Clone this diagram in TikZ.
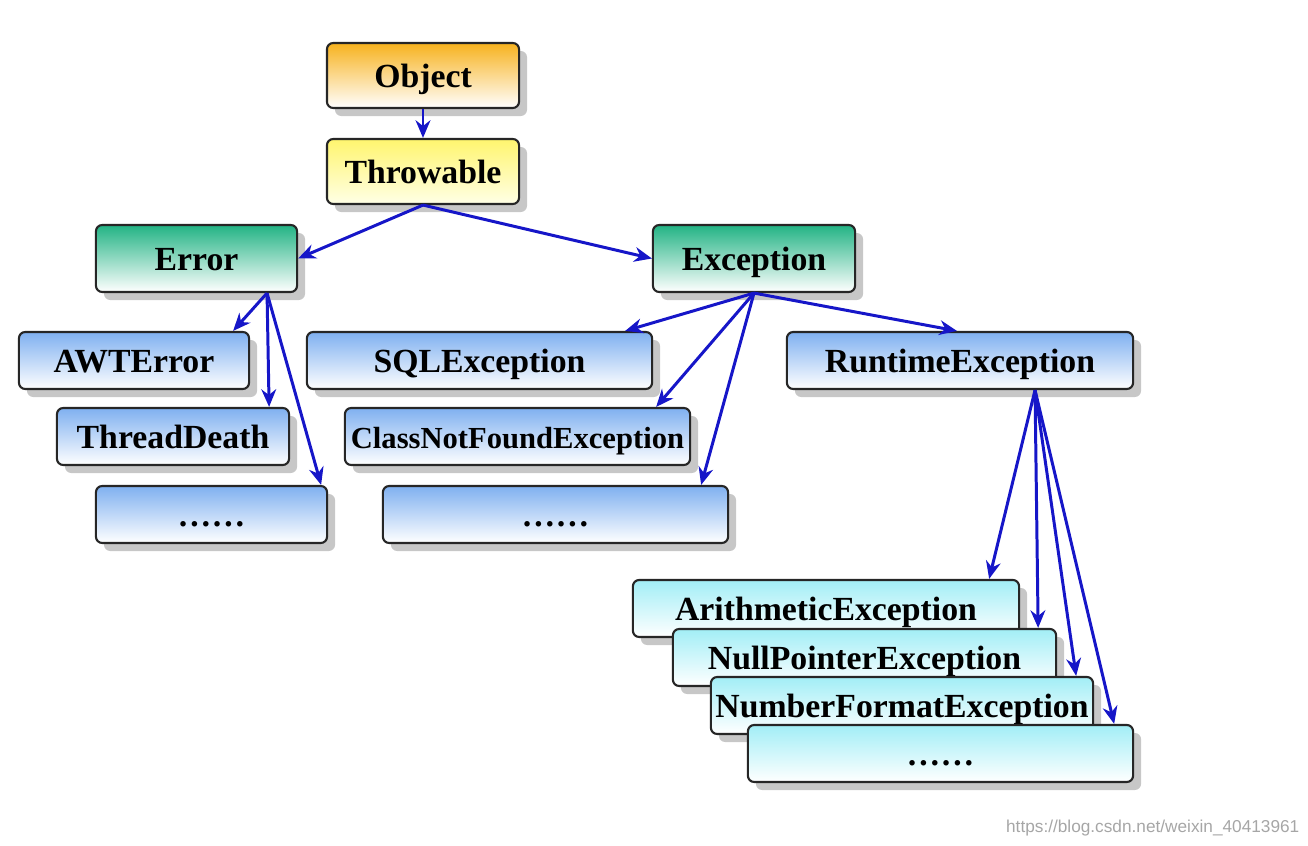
\documentclass[tikz,border=0pt]{standalone}
\usepackage{fontspec}
\setmainfont{Liberation Serif}
\newfontfamily\wmfont{Liberation Sans}
\usepackage{tikz}
\usetikzlibrary{arrows.meta,shadows}
\definecolor{objtop}{HTML}{F7B21E}
\definecolor{thrtop}{HTML}{FFF56E}
\definecolor{thrbot}{HTML}{FFFFE6}
\definecolor{kindtop}{HTML}{22B384}
\definecolor{subtop}{HTML}{7FB0F0}
\definecolor{leaftop}{HTML}{A2EEF6}
\definecolor{linkblue}{HTML}{1616C8}
\tikzset{%
  cls/.style={%
    draw=black!85,
    line width=0.6pt,
    rounded corners=1.8pt,
    inner sep=0pt,
    text height=1.45ex,
    text depth=0pt,
    font=\bfseries\fontsize{9.6}{11}\selectfont,
    drop shadow={shadow xshift=0.08cm, shadow yshift=-0.08cm, fill=black!22, opacity=1}
  },
  rootcls/.style={cls, top color=objtop, middle color=objtop!35, bottom color=white},
  thrcls/.style={cls, top color=thrtop, bottom color=thrbot},
  kindcls/.style={cls, top color=kindtop, middle color=kindtop!30, bottom color=white},
  subcls/.style={cls, top color=subtop, middle color=subtop!35, bottom color=white},
  leafcls/.style={cls, top color=leaftop, middle color=leaftop!35, bottom color=white},
  extends/.style={%
    draw=linkblue,
    line width=0.85pt,
    -{Stealth[length=5pt,width=4.2pt]}
  }
}

\begin{document}
\begin{tikzpicture}[x=0.01cm, y=-0.01cm]
  \useasboundingbox (0, 0) rectangle (1308, 846);
  % top of the tree
  \node [rootcls, minimum width=1.92cm, minimum height=0.65cm] (obj) at (423, 75.5) {Object};
  \node [thrcls, minimum width=1.92cm, minimum height=0.65cm] (thr) at (423, 171.5) {Throwable};
  \node [kindcls, minimum width=2.01cm, minimum height=0.67cm] (err) at (196.5, 258.5) {Error};
  \node [kindcls, minimum width=2.02cm, minimum height=0.67cm] (exc) at (754, 258.5) {Exception};
  % errors
  \node [subcls, minimum width=2.30cm, minimum height=0.57cm] (awt) at (134, 360.5) {AWTError};
  \node [subcls, minimum width=2.32cm, minimum height=0.57cm] (td) at (173, 436.5) {ThreadDeath};
  \node [subcls, minimum width=2.31cm, minimum height=0.57cm] (edots) at (211.5, 514.5) {……};
  % checked exceptions
  \node [subcls, minimum width=3.45cm, minimum height=0.57cm] (sql) at (479.5, 360.5) {SQLException};
  \node [subcls, minimum width=3.45cm, minimum height=0.57cm, font=\bfseries\fontsize{8.7}{10}\selectfont] (cnf) at (517.5, 436.5) {ClassNotFoundException};
  \node [subcls, minimum width=3.45cm, minimum height=0.57cm] (xdots) at (555.5, 514.5) {……};
  \node [subcls, minimum width=3.46cm, minimum height=0.57cm] (rte) at (960, 360.5) {RuntimeException};
  % runtime exceptions
  \node [leafcls, minimum width=3.86cm, minimum height=0.57cm] (ari) at (826, 608.5) {ArithmeticException};
  \node [leafcls, minimum width=3.83cm, minimum height=0.57cm] (npe) at (864.5, 657.5) {NullPointerException};
  \node [leafcls, minimum width=3.82cm, minimum height=0.57cm] (nfe) at (902, 705.5) {NumberFormatException};
  \node [leafcls, minimum width=3.85cm, minimum height=0.57cm] (rdots) at (940.5, 753.5) {……};
  \node [text=black!35, font=\wmfont\fontsize{4.9}{6}\selectfont, inner sep=0pt, anchor=east] (wm) at (1300, 828) {https://blog.csdn.net/weixin\_40413961};
  % links
  \draw [extends] (obj.south) -- (thr.north);
  \draw [extends] (thr.south) -- (err.east);
  \draw [extends] (thr.south) -- (exc.west);
  \draw [extends] ([xshift=0.705cm]err.south) -- ([xshift=-0.17cm]awt.north east);
  \draw [extends] ([xshift=0.705cm]err.south) -- ([xshift=-0.21cm]td.north east);
  \draw [extends] ([xshift=0.705cm]err.south) -- ([xshift=-0.07cm]edots.north east);
  \draw [extends] (exc.south) -- ([xshift=-0.28cm]sql.north east);
  \draw [extends] (exc.south) -- ([xshift=-0.35cm]cnf.north east);
  \draw [extends] (exc.south) -- ([xshift=-0.28cm]xdots.north east);
  \draw [extends] (exc.south) -- ([xshift=-0.03cm]rte.north);
  \draw [extends] ([xshift=0.75cm]rte.south) -- ([xshift=-0.31cm]ari.north east);
  \draw [extends] ([xshift=0.75cm]rte.south) -- ([xshift=-0.19cm]npe.north east);
  \draw [extends] ([xshift=0.75cm]rte.south) -- ([xshift=-0.18cm]nfe.north east);
  \draw [extends] ([xshift=0.75cm]rte.south) -- ([xshift=-0.20cm]rdots.north east);
\end{tikzpicture}
\end{document}
